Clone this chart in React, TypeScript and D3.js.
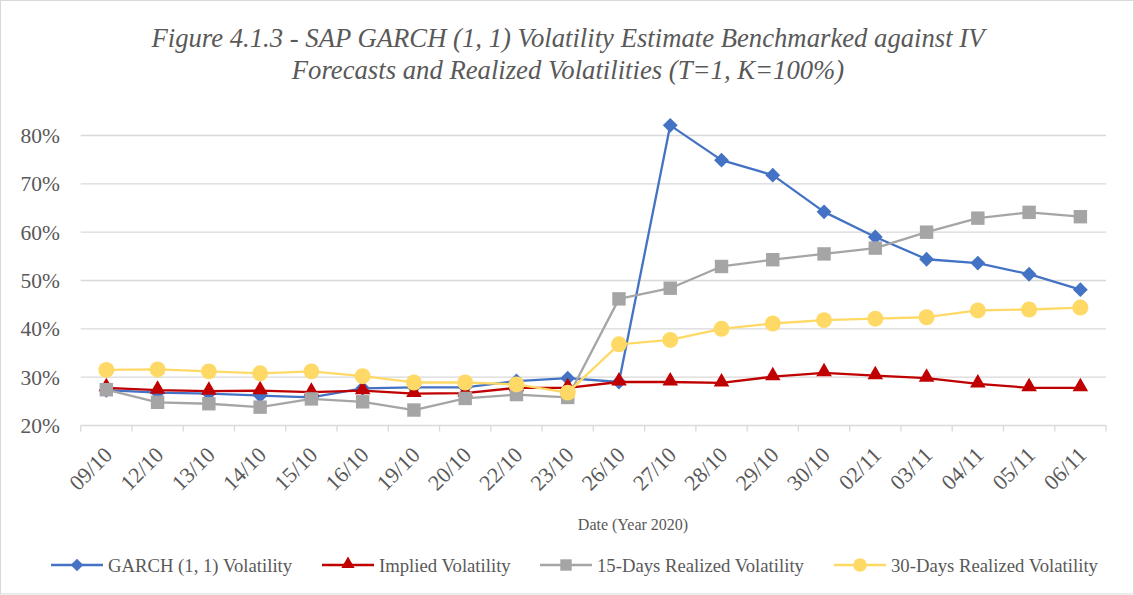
import React from 'react';
import * as d3 from 'd3';

// Dates (Year 2020)
const dates = ['09/10', '12/10', '13/10', '14/10', '15/10', '16/10', '19/10', '20/10', '22/10', '23/10',
    '26/10', '27/10', '28/10', '29/10', '30/10', '02/11', '03/11', '04/11', '05/11', '06/11'];

// Volatilities in %
const garch = [27.3, 26.8, 26.6, 26.2, 25.8, 27.7, 27.9, 27.9, 29.2, 29.8,
    29.0, 82.1, 74.9, 71.8, 64.2, 59.0, 54.4, 53.6, 51.3, 48.1];
const implied = [27.8, 27.3, 27.1, 27.2, 26.9, 27.2, 26.6, 26.7, 27.8, 27.8,
    29.0, 29.0, 28.8, 30.1, 30.9, 30.3, 29.8, 28.6, 27.8, 27.8];
const realized15 = [27.4, 24.8, 24.5, 23.8, 25.5, 24.9, 23.2, 25.6, 26.4, 25.8,
    46.2, 48.4, 52.9, 54.3, 55.5, 56.7, 60.0, 62.9, 64.1, 63.2];
const realized30 = [31.5, 31.6, 31.2, 30.8, 31.2, 30.2, 28.9, 28.9, 28.5, 26.8,
    36.8, 37.7, 40.0, 41.1, 41.8, 42.1, 42.4, 43.8, 44.0, 44.4];

const yTicks = [20, 30, 40, 50, 60, 70, 80];

const series = [
    {name: 'GARCH (1, 1) Volatility', values: garch, color: '#4472C4', marker: 'diamond'},
    {name: 'Implied Volatility', values: implied, color: '#C00000', marker: 'triangle'},
    {name: '15-Days Realized Volatility', values: realized15, color: '#A5A5A5', marker: 'square'},
    {name: '30-Days Realized Volatility', values: realized30, color: '#FFD966', marker: 'circle'},
];

const width = 1134, height = 595;
const left = 80.7, right = 1106, top = 135.5, bottom = 425.5;
const textColor = '#595959';
const gridColor = '#d9d9d9';
const font = '"Liberation Serif", "Times New Roman", serif';

// legend item x positions (line start)
const legendX = [51, 322, 540, 834];
const legendY = 565;

function markerPath(kind: string) {
    if (kind === 'diamond') return d3.symbol(d3.symbolSquare, 110)();
    if (kind === 'triangle') return d3.symbol(d3.symbolTriangle, 105)();
    if (kind === 'square') return d3.symbol(d3.symbolSquare, 180)();
    return d3.symbol(d3.symbolCircle, 200)();
}

function Marker({kind, x, y, color}: {kind: string, x: number, y: number, color: string}) {
    let rot = kind === 'diamond' ? ' rotate(45)' : '';
    let dy = kind === 'triangle' ? -1 : 0;
    return <path d={markerPath(kind) || ''} transform={`translate(${x},${y + dy})${rot}`} fill={color} stroke="none"/>;
}

export default function App() {
    const x = d3.scaleBand().domain(dates).range([left, right]);
    const y = d3.scaleLinear().domain([20, 80]).range([bottom, top]);
    const cx = (d: string) => (x(d) as number) + x.bandwidth() / 2;

    const line = d3.line<number>()
        .x((d, i) => cx(dates[i]))
        .y(d => y(d));

    const boundaries = dates.map(d => x(d) as number).concat([right]);

    return (
        <svg width={width} height={height} style={{position: 'absolute', left: 0, top: 0, background: '#fff'}}
             fontFamily={font}>
            <rect x={0.5} y={0.5} width={width - 1} height={height - 1.5} fill="#fff" stroke={gridColor}/>

            {/* title */}
            <text x={567} textAnchor="middle" fill={textColor} fontSize={26.7} fontStyle="italic">
                <tspan x={568} y={47}>Figure 4.1.3 - SAP GARCH (1, 1) Volatility Estimate Benchmarked against IV</tspan>
                <tspan x={568} y={79}>Forecasts and Realized Volatilities (T=1, K=100%)</tspan>
            </text>

            {/* gridlines + y labels */}
            {yTicks.map(t => (
                <g key={t}>
                    <line x1={left} x2={right} y1={y(t)} y2={y(t)} stroke={gridColor} strokeWidth={1.3}/>
                    <text x={60} y={y(t)} dy="0.35em" textAnchor="end" fill={textColor} fontSize={21.5}>{t}%</text>
                </g>
            ))}

            {/* x tick marks */}
            {boundaries.map((b, i) => (
                <line key={i} x1={b} x2={b} y1={bottom} y2={bottom + 6} stroke={gridColor} strokeWidth={1.3}/>
            ))}

            {/* x labels */}
            {dates.map(d => (
                <text key={d} transform={`translate(${cx(d) + 2},${451}) rotate(-45)`} textAnchor="end"
                      dominantBaseline="central" fill={textColor} fontSize={22}>{d}</text>
            ))}

            <text x={633} y={530} textAnchor="middle" fill={textColor} fontSize={16}>Date (Year 2020)</text>

            {/* series */}
            {series.map(s => (
                <g key={s.name}>
                    <path d={line(s.values) || ''} fill="none" stroke={s.color} strokeWidth={2.3}
                          strokeLinejoin="round"/>
                    {s.values.map((v, i) => (
                        <Marker key={i} kind={s.marker} x={cx(dates[i])} y={y(v)} color={s.color}/>
                    ))}
                </g>
            ))}

            {/* legend */}
            {series.map((s, i) => (
                <g key={s.name} transform={`translate(${legendX[i]},${legendY})`}>
                    <line x1={0} x2={52} y1={0} y2={0} stroke={s.color} strokeWidth={2.3}/>
                    <g transform="scale(0.85)">
                        <Marker kind={s.marker} x={26 / 0.85} y={0} color={s.color}/>
                    </g>
                    <text x={57} y={0} dy="0.35em" fill={textColor} fontSize={18.7}>{s.name}</text>
                </g>
            ))}
        </svg>
    );
}
